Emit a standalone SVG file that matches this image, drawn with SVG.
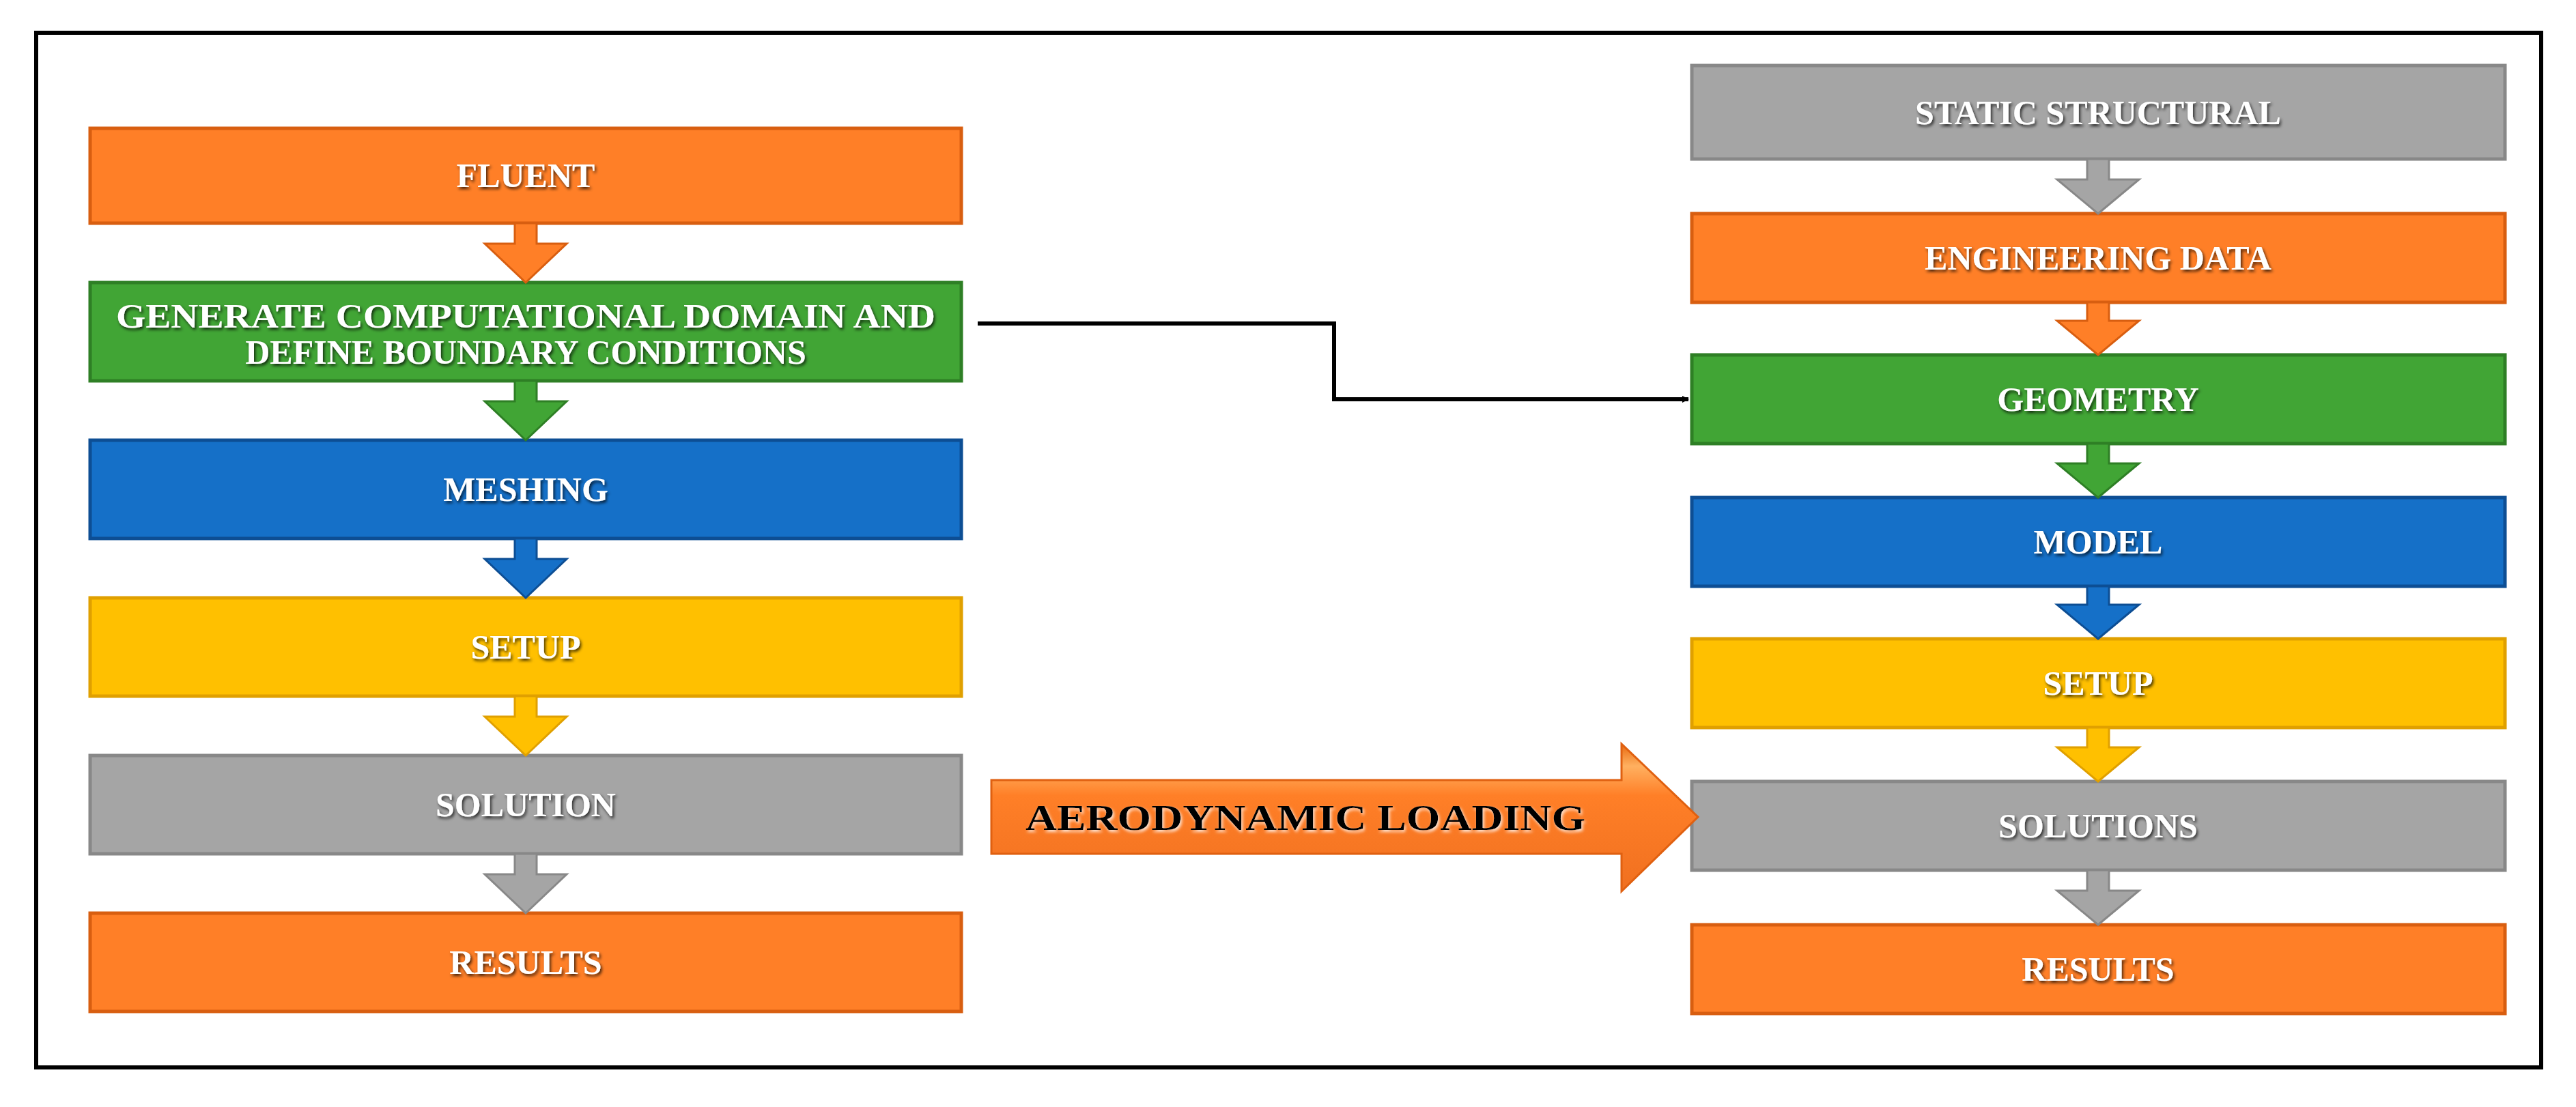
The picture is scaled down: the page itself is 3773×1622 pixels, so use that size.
<svg xmlns="http://www.w3.org/2000/svg" width="3773" height="1622" viewBox="0 0 3773 1622">
<defs>
<filter id="sh" x="-10%" y="-30%" width="120%" height="160%"><feDropShadow dx="2" dy="3" stdDeviation="2" flood-color="#000" flood-opacity="0.75"/></filter>
<filter id="shl" x="-10%" y="-30%" width="120%" height="160%"><feDropShadow dx="2" dy="3" stdDeviation="2" flood-color="#fff" flood-opacity="0.8"/></filter>
<marker id="ah" markerWidth="10" markerHeight="10" refX="9" refY="5" orient="auto" markerUnits="userSpaceOnUse" viewBox="0 0 10 10"><path d="M0,0 L10,5 L0,10 z" fill="#000"/></marker>
<linearGradient id="og" x1="0" y1="0" x2="0" y2="1"><stop offset="0" stop-color="#E86A10"/><stop offset="0.15" stop-color="#FFB060"/><stop offset="0.35" stop-color="#FF7F27"/><stop offset="1" stop-color="#F07020"/></linearGradient>
</defs>
<style>
.t{font-family:"Liberation Serif",serif;font-weight:bold;font-size:50px;fill:#fff;text-anchor:middle;filter:url(#sh)}
.o{fill:#FF7F27;stroke:#D85E10;stroke-width:5}
.g{fill:#41A535;stroke:#2E7F25;stroke-width:5}
.b{fill:#1570C8;stroke:#0D4E94;stroke-width:5}
.y{fill:#FFC000;stroke:#E0A000;stroke-width:5}
.s{fill:#A5A5A5;stroke:#888;stroke-width:5}
</style>
<rect x="53" y="48" width="3669" height="1516" fill="#fff" stroke="#000" stroke-width="6"/>
<g id="n1"><rect class="o" x="132" y="188" width="1276" height="139"/><text class="t" x="770" y="274">FLUENT</text></g>
<g id="n2"><rect class="g" x="132" y="414" width="1276" height="144"/><text class="t" x="770" y="480" textLength="1200" lengthAdjust="spacingAndGlyphs">GENERATE COMPUTATIONAL DOMAIN AND</text><text class="t" x="770" y="533">DEFINE BOUNDARY CONDITIONS</text></g>
<g id="n3"><rect class="b" x="132" y="645" width="1276" height="144"/><text class="t" x="770" y="734">MESHING</text></g>
<g id="n4"><rect class="y" x="132" y="876" width="1276" height="144"/><text class="t" x="770" y="965">SETUP</text></g>
<g id="n5"><rect class="s" x="132" y="1107" width="1276" height="144"/><text class="t" x="770" y="1196">SOLUTION</text></g>
<g id="n6"><rect class="o" x="132" y="1338" width="1276" height="144"/><text class="t" x="770" y="1427">RESULTS</text></g>
<g id="r1"><rect class="s" x="2478" y="96" width="1191" height="137"/><text class="t" x="3073" y="182">STATIC STRUCTURAL</text></g>
<g id="r2"><rect class="o" x="2478" y="313" width="1191" height="130"/><text class="t" x="3073" y="395">ENGINEERING DATA</text></g>
<g id="r3"><rect class="g" x="2478" y="520" width="1191" height="130"/><text class="t" x="3073" y="602">GEOMETRY</text></g>
<g id="r4"><rect class="b" x="2478" y="729" width="1191" height="130"/><text class="t" x="3073" y="811">MODEL</text></g>
<g id="r5"><rect class="y" x="2478" y="936" width="1191" height="130"/><text class="t" x="3073" y="1018">SETUP</text></g>
<g id="r6"><rect class="s" x="2478" y="1145" width="1191" height="130"/><text class="t" x="3073" y="1227">SOLUTIONS</text></g>
<g id="r7"><rect class="o" x="2478" y="1355" width="1191" height="130"/><text class="t" x="3073" y="1437">RESULTS</text></g>
<g id="connectors">
<path fill="#FF7F27" stroke="#D85E10" stroke-width="3" d="M754,327 h32 v30 h44 l-60,57 l-60,-57 h44 z"/>
<path fill="#41A535" stroke="#2E7F25" stroke-width="3" d="M754,558 h32 v30 h44 l-60,57 l-60,-57 h44 z"/>
<path fill="#1570C8" stroke="#0D4E94" stroke-width="3" d="M754,789 h32 v30 h44 l-60,57 l-60,-57 h44 z"/>
<path fill="#FFC000" stroke="#E0A000" stroke-width="3" d="M754,1020 h32 v30 h44 l-60,57 l-60,-57 h44 z"/>
<path fill="#A5A5A5" stroke="#888" stroke-width="3" d="M754,1251 h32 v30 h44 l-60,57 l-60,-57 h44 z"/>
<path fill="#A5A5A5" stroke="#888" stroke-width="3" d="M3057,233 h32 v30 h44 l-60,50 l-60,-50 h44 z"/>
<path fill="#FF7F27" stroke="#D85E10" stroke-width="3" d="M3057,443 h32 v27 h44 l-60,50 l-60,-50 h44 z"/>
<path fill="#41A535" stroke="#2E7F25" stroke-width="3" d="M3057,650 h32 v29 h44 l-60,50 l-60,-50 h44 z"/>
<path fill="#1570C8" stroke="#0D4E94" stroke-width="3" d="M3057,859 h32 v27 h44 l-60,50 l-60,-50 h44 z"/>
<path fill="#FFC000" stroke="#E0A000" stroke-width="3" d="M3057,1066 h32 v29 h44 l-60,50 l-60,-50 h44 z"/>
<path fill="#A5A5A5" stroke="#888" stroke-width="3" d="M3057,1275 h32 v30 h44 l-60,50 l-60,-50 h44 z"/>
<path d="M1432,474 H1954 V585 H2473" fill="none" stroke="#000" stroke-width="6" marker-end="url(#ah)"/>
</g>
<g id="aero">
<path fill="url(#og)" stroke="#E06010" stroke-width="3" d="M1452,1143 H2375 V1090 L2487,1197 L2375,1306 V1251 H1452 z"/>
<text x="1912" y="1216" font-family="'Liberation Serif',serif" font-weight="bold" font-size="52" fill="#000" text-anchor="middle" filter="url(#shl)" textLength="820" lengthAdjust="spacingAndGlyphs">AERODYNAMIC  LOADING</text>
</g>
</svg>
